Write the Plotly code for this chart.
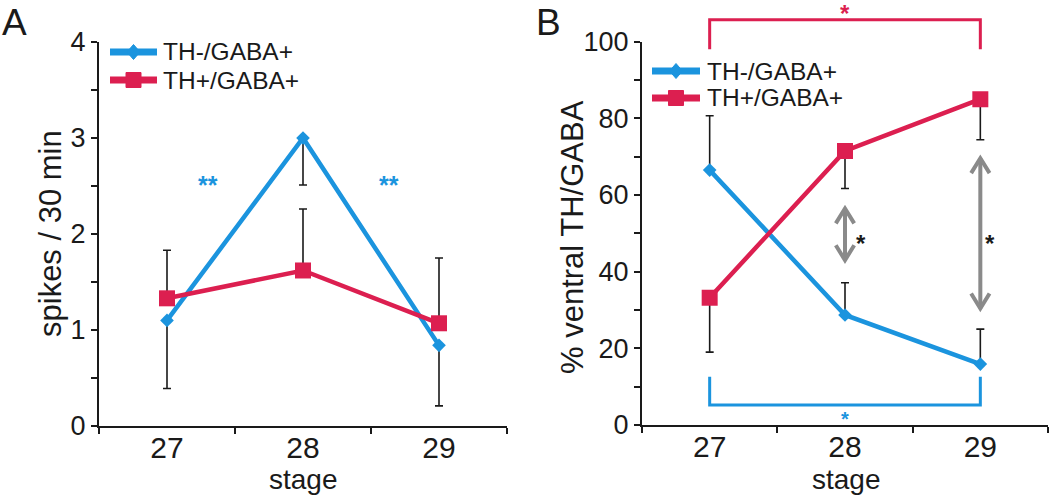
import plotly.graph_objects as go

# ---------------- data ----------------
stages = [27, 28, 29]
stage_labels = ["27", "28", "29"]
stage_bounds = [26.5, 27.5, 28.5, 29.5]
series_names = ["TH-/GABA+", "TH+/GABA+"]

# Panel A : spikes / 30 min
a_th_neg = [1.10, 3.00, 0.84]
a_th_neg_err_minus = [0.71, 0.49, 0.63]
a_th_pos = [1.33, 1.62, 1.07]
a_th_pos_err_plus = [0.50, 0.64, 0.68]
a_yticks = [0, 1, 2, 3, 4]
a_yminor = [0.5, 1.5, 2.5, 3.5]

# Panel B : % ventral TH/GABA
b_th_neg = [66.5, 28.7, 15.9]
b_th_neg_err_plus = [14.2, 8.4, 9.1]
b_th_pos = [33.2, 71.5, 85.0]
b_th_pos_err_minus = [14.2, 9.8, 10.6]
b_yticks = [0, 20, 40, 60, 80, 100]
b_yminor = [10, 30, 50, 70, 90]

# significance marks
a_star_x = [27.30, 28.63]
a_star_y = [2.55, 2.55]
b_arrow_x = [28, 29]
b_arrow_lo = [43.0, 30.4]
b_arrow_hi = [56.5, 69.6]
b_arrow_star_x = [28.12, 29.07]
b_arrow_star_y = [48.5, 48.5]
b_top_bracket = [27, 29, 98.0, 105.7]     # x0, x1, end, bar
b_top_star_x = 28
b_bot_bracket = [27, 29, 12.6, 5.2]
b_bot_star = [28, 2.6]

# ---------------- style ----------------
W, H = 1050, 500
BLUE = "#1b94de"
RED = "#dc1f50"
GRAY = "#8a8a8a"
INK = "#1a1a1a"
FONT = "Liberation Sans, Arial, sans-serif"
STAR_SHIFT = -4

A_X = [99, 507]
A_Y = [426, 42]
B_X = [642, 1048]
B_Y = [425, 41.7]


def pxx(x):
    return x / W


def pxy(y):
    return 1 - y / H


fig = go.Figure()


def add_pair(xa, ya, neg, neg_err, neg_dir, pos, pos_err, pos_dir):
    zeros = [0] * len(stages)
    eb = dict(type="data", symmetric=False, color=INK, thickness=1.6, width=4)
    ebn = dict(eb)
    ebp = dict(eb)
    if neg_dir == "minus":
        ebn.update(array=zeros, arrayminus=neg_err)
    else:
        ebn.update(array=neg_err, arrayminus=zeros)
    if pos_dir == "minus":
        ebp.update(array=zeros, arrayminus=pos_err)
    else:
        ebp.update(array=pos_err, arrayminus=zeros)
    fig.add_trace(go.Scatter(
        x=stages, y=neg, name=series_names[0], mode="lines+markers",
        line=dict(color=BLUE, width=4.5),
        marker=dict(symbol="diamond", size=10.5, color=BLUE),
        error_y=ebn, xaxis=xa, yaxis=ya, showlegend=False))
    fig.add_trace(go.Scatter(
        x=stages, y=pos, name=series_names[1], mode="lines+markers",
        line=dict(color=RED, width=4.5),
        marker=dict(symbol="square", size=16, color=RED),
        error_y=ebp, xaxis=xa, yaxis=ya, showlegend=False))


add_pair("x", "y", a_th_neg, a_th_neg_err_minus, "minus", a_th_pos, a_th_pos_err_plus, "plus")
add_pair("x2", "y2", b_th_neg, b_th_neg_err_plus, "plus", b_th_pos, b_th_pos_err_minus, "minus")


def xaxis_cfg(dom):
    return dict(
        domain=[pxx(dom[0]), pxx(dom[1])], range=[stage_bounds[0], stage_bounds[-1]],
        tickmode="array", tickvals=stages, ticktext=stage_labels, ticks="",
        ticklabelstandoff=-6,
        tickfont=dict(size=30, color=INK, family=FONT),
        showline=True, linecolor=INK, linewidth=2, showgrid=False, zeroline=False,
        minor=dict(tickmode="array", tickvals=stage_bounds, ticks="outside",
                   ticklen=6, tickwidth=2, tickcolor=INK, showgrid=False),
        automargin=False, fixedrange=True)


def yaxis_cfg(dom, rng, ticks, minor):
    return dict(
        domain=[pxy(dom[0]), pxy(dom[1])], range=rng,
        tickmode="array", tickvals=ticks, ticks="outside", ticklen=6, tickwidth=2,
        tickcolor=INK, tickfont=dict(size=27, color=INK, family=FONT),
        showline=True, linecolor=INK, linewidth=2, showgrid=False, zeroline=False,
        minor=dict(tickmode="array", tickvals=minor, ticks="outside",
                   ticklen=6, tickwidth=2, tickcolor=INK, showgrid=False),
        automargin=False, fixedrange=True)


shapes = []
annotations = []

# axis titles
for text, x, y, ang, size in [("spikes / 30 min", 50, 234, -90, 31),
                              ("% ventral TH/GABA", 572, 237, -90, 31),
                              ("stage", 303, 479, 0, 28),
                              ("stage", 846, 479, 0, 28)]:
    annotations.append(dict(x=pxx(x), y=pxy(y), xref="paper", yref="paper", text=text,
                            textangle=ang, showarrow=False, xanchor="center", yanchor="middle",
                            font=dict(size=size, color=INK, family=FONT)))

# gray double-headed arrows (panel B)
DX, DY = 0.068, 3.9
for x, lo, hi in zip(b_arrow_x, b_arrow_lo, b_arrow_hi):
    sty = dict(xref="x2", yref="y2", line=dict(color=GRAY, width=4))
    shapes.append(dict(type="line", x0=x, x1=x, y0=lo, y1=hi, **sty))
    shapes.append(dict(type="path", path=f"M{x-DX},{hi-DY} L{x},{hi} L{x+DX},{hi-DY}", **sty))
    shapes.append(dict(type="path", path=f"M{x-DX},{lo+DY} L{x},{lo} L{x+DX},{lo+DY}", **sty))
for x, y in zip(b_arrow_star_x, b_arrow_star_y):
    annotations.append(dict(x=x, y=y, xref="x2", yref="y2", text="<b>*</b>", showarrow=False,
                            xanchor="center", yanchor="middle",
                            yshift=STAR_SHIFT, font=dict(size=24, color=INK, family=FONT)))


def b_to_paper_y(v):
    y0, y1 = pxy(B_Y[0]), pxy(B_Y[1])
    return y0 + v / 100.0 * (y1 - y0)


def b_to_paper_x(v):
    x0, x1 = pxx(B_X[0]), pxx(B_X[1])
    return x0 + (v - stage_bounds[0]) / (stage_bounds[-1] - stage_bounds[0]) * (x1 - x0)


# significance brackets
x0, x1, ye, yb = b_top_bracket
shapes.append(dict(type="path", xref="paper", yref="paper",
                   path=(f"M{b_to_paper_x(x0)},{b_to_paper_y(ye)} L{b_to_paper_x(x0)},{b_to_paper_y(yb)} "
                         f"L{b_to_paper_x(x1)},{b_to_paper_y(yb)} L{b_to_paper_x(x1)},{b_to_paper_y(ye)}"),
                   line=dict(color=RED, width=3)))
annotations.append(dict(x=b_to_paper_x(b_top_star_x), y=1.0,
                        xref="paper", yref="paper", text="<b>*</b>", xanchor="center", yanchor="top",
                        showarrow=False, yshift=2, font=dict(size=24, color=RED, family=FONT)))
x0, x1, ye, yb = b_bot_bracket
shapes.append(dict(type="path", xref="x2", yref="y2",
                   path=f"M{x0},{ye} L{x0},{yb} L{x1},{yb} L{x1},{ye}",
                   line=dict(color=BLUE, width=3)))
annotations.append(dict(x=b_bot_star[0], y=b_bot_star[1], xref="x2", yref="y2", text="<b>*</b>",
                        xanchor="center", yanchor="middle",
                        showarrow=False, yshift=STAR_SHIFT, font=dict(size=20, color=BLUE, family=FONT)))

for x, y in zip(a_star_x, a_star_y):
    annotations.append(dict(x=x, y=y, xref="x", yref="y", text="<b>**</b>", showarrow=False,
                            xanchor="center", yanchor="middle",
                            yshift=STAR_SHIFT, font=dict(size=25, color=BLUE, family=FONT)))


# custom legends
def legend(x_left, x_right, x_text, y_rows):
    cx = (x_left + x_right) / 2
    for name, color, sym, y in zip(series_names, [BLUE, RED], ["diamond", "square"], y_rows):
        shapes.append(dict(type="line", xref="paper", yref="paper",
                           x0=pxx(x_left), x1=pxx(x_right), y0=pxy(y), y1=pxy(y),
                           line=dict(color=color, width=7)))
        if sym == "diamond":
            path = (f"M{pxx(cx-6.5)},{pxy(y)} L{pxx(cx)},{pxy(y-7.5)} "
                    f"L{pxx(cx+6.5)},{pxy(y)} L{pxx(cx)},{pxy(y+7.5)} Z")
        else:
            path = (f"M{pxx(cx-7.5)},{pxy(y-7.5)} L{pxx(cx+7.5)},{pxy(y-7.5)} "
                    f"L{pxx(cx+7.5)},{pxy(y+7.5)} L{pxx(cx-7.5)},{pxy(y+7.5)} Z")
        shapes.append(dict(type="path", xref="paper", yref="paper", path=path,
                           fillcolor=color, line=dict(color=color, width=1)))
        annotations.append(dict(x=pxx(x_text), y=pxy(y), xref="paper", yref="paper",
                                xanchor="left", yanchor="middle", text=name, showarrow=False,
                                font=dict(size=24.5, color=INK, family=FONT)))


legend(110, 157, 161, [52, 80])
legend(652, 700, 705, [71, 98])

# panel letters
for letter, xp in [("A", 0), ("B", 534)]:
    annotations.append(dict(x=pxx(xp), y=1.0, xref="paper", yref="paper", xanchor="left",
                            yanchor="top", text=letter, showarrow=False,
                            font=dict(size=37, color=INK, family=FONT)))

fig.update_layout(
    width=W, height=H, template="none",
    margin=dict(l=0, r=0, t=0, b=0),
    paper_bgcolor="white", plot_bgcolor="white",
    font=dict(family=FONT, color=INK),
    showlegend=False,
    xaxis=dict(xaxis_cfg(A_X), anchor="y"),
    yaxis=dict(yaxis_cfg(A_Y, [0, 4], a_yticks, a_yminor), anchor="x"),
    xaxis2=dict(xaxis_cfg(B_X), anchor="y2"),
    yaxis2=dict(yaxis_cfg(B_Y, [0, 100], b_yticks, b_yminor), anchor="x2"),
    shapes=shapes, annotations=annotations,
)

fig.write_html("out.html", config={"displayModeBar": False},
               post_script="document.body.style.margin='0px';")
